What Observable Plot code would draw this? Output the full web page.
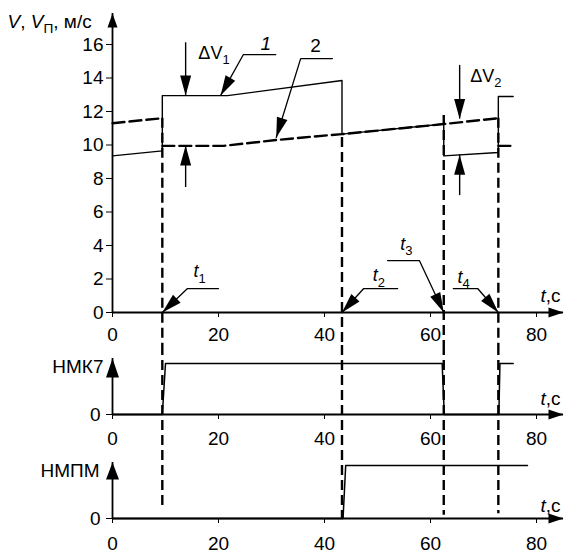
<!DOCTYPE html>
<html><head><meta charset="utf-8">
<script src="https://cdn.jsdelivr.net/npm/d3@7"></script>
<script src="https://cdn.jsdelivr.net/npm/@observablehq/plot@0.6"></script>
<style>
html,body{margin:0;padding:0;background:#fff;}
#chart{position:relative;width:565px;height:553px;overflow:hidden;background:#fff;}
#chart svg{position:absolute;left:0;}
</style></head><body><div id="chart"></div>
<script>
// ---------------- DATA ----------------
const tTicks = [0, 20, 40, 60, 80];
const vTicks = [0, 2, 4, 6, 8, 10, 12, 14, 16];

// curve 1: V (solid)
const vT = [0, 9.4, 9.4, 21.7, 43.3, 43.3, 62.5, 62.5, 72.8, 72.8, 75.6];
const vV = [9.35, 9.65, 12.95, 12.95, 13.85, 10.65, 11.25, 9.35, 9.55, 12.9, 12.9];

// curve 2: V_п (dashed), split in segments
const vpT   = [0, 9.4, 9.4, 21, 31, 36, 43.3, 62.5, 72.8, 72.8, 75.4];
const vpV   = [11.3, 11.6, 9.95, 9.95, 10.3, 10.45, 10.65, 11.25, 11.6, 9.95, 9.95];
const vpSeg = [0, 0, 1, 1, 1, 1, 1, 1, 1, 2, 2];

// НМК7 signal
const nmkT = [0, 9.4, 10.0, 62.2, 62.6, 72.9, 73.1, 75.6];
const nmkV = [0, 0, 1, 1, 0, 0, 1, 1];
// НМПМ signal
const nmpmT = [0, 43.5, 44.0, 78.3];
const nmpmV = [0, 0, 1, 1];

// event instants t1..t4
const eventT = [9.4, 43.3, 62.5, 72.8];
const eventTopV = [11.6, 10.45, 11.76, 11.6];     // where marker starts in V panel
const eventEndBottom = [0.21, 0, 0.06, 0.09];      // where marker ends in НМПМ panel

// leaders (callouts)
const leaderId = ["1", "2", "t1", "t2", "t3", "t4"];
const leaderEndT = [30.8, 41.5, 20.0, 53.8, 51.9, 64.3];
const leaderKneeT = [24.7, 35.5, 14.15, 47.4, 57.9, 68.9];
const leaderShelfV = [15.4, 15.16, 1.43, 1.43, 3.1, 1.43];
const leaderTipT = [20.4, 30.9, 9.4, 43.3, 62.5, 72.8];
const leaderTipV = [12.96, 10.45, 0, 0, 0, 0];

// ΔV arrows
const dvT = [13.8, 13.8, 65.5, 65.5];
const dvFromV = [16.1, 7.46, 14.75, 6.98];
const dvTipV = [12.96, 9.97, 11.55, 9.42];

// labels
const curveLabels = ["1", "2"];
const curveLabelT = [28.9, 38.3];
const curveLabelV = [16.06, 15.94];
const dvLabels = ["ΔV_1_", "ΔV_2_"];
const dvLabelT = [16.2, 67.5];
const dvLabelV = [15.5, 14.1];
const tLabels = ["*t*_1_", "*t*_2_", "*t*_3_", "*t*_4_"];
const tLabelT = [15.3, 49.1, 54.3, 65.1];
const tLabelV = [2.45, 2.2, 4.1, 2.1];
const yTitleTop = "*V*, *V*_П_, м/с";
const axisTitleT = "*t*,с";
const midTitle = "НМК7";
const botTitle = "НМПМ";

// ---------------- LAYOUT ----------------
const W = 565, ML = 112, MR = 29;
const P = {
  top: {top: 0, height: 345, mt: 44, mb: 33, domain: [0, 16]},
  mid: {top: 345, height: 105, mt: 18, mb: 36, domain: [0, 1]},
  bot: {top: 450, height: 103, mt: 15, mb: 35, domain: [0, 1]}
};
const xs = d3.scaleLinear([0, 80], [ML, W - MR]);
for (const k in P) P[k].ys = d3.scaleLinear(P[k].domain, [P[k].height - P[k].mb, P[k].mt]);
const xTip = xs.invert(563);

const font = "'Liberation Sans', Arial, Helvetica, sans-serif";
const baseStyle = {fontFamily: font, fontSize: "19px", background: "transparent", overflow: "visible", color: "black"};

function arrowHead(dx, dy, len, wid) {
  const n = Math.hypot(dx, dy), ux = dx / n, uy = dy / n;
  return {draw(ctx) {
    const bx = -len * ux, by = -len * uy;
    ctx.moveTo(0, 0);
    ctx.lineTo(bx - wid / 2 * uy, by + wid / 2 * ux);
    ctx.lineTo(bx + wid / 2 * uy, by - wid / 2 * ux);
    ctx.closePath();
  }};
}
function headDot(t, v, sym) {
  return Plot.dot([0], {x: () => t, y: () => v, symbol: sym, r: 5, fill: "black", stroke: "none"});
}
function axisMarks(p, yTipPx, yHead, xHead) {
  const yTip = p.ys.invert(yTipPx);
  return [
    Plot.ruleY([0], {x1: 0, x2: xTip, stroke: "black", strokeWidth: 1.8}),
    Plot.ruleX([0], {y1: 0, y2: yTip, stroke: "black", strokeWidth: 1.8}),
    headDot(0, yTip, arrowHead(0, -1, yHead[0], yHead[1])),
    headDot(xTip, 0, arrowHead(1, 0, xHead[0], xHead[1]))
  ];
}
// turn simple markup (*italic*, _subscript_) into tspans
function enrich(svg, fsByString) {
  d3.select(svg).selectAll("text").each(function() {
    const s = this.textContent;
    if (!(s in fsByString)) return;
    const fs = fsByString[s];
    const el = d3.select(this); el.text(null);
    const parts = s.split(/(\*[^*]+\*|_[^_]+_)/).filter(p => p);
    let shift = 0;
    for (const p of parts) {
      const ts = el.append("tspan");
      let txt = p, dy;
      if (p[0] === "_") {
        txt = p.slice(1, -1); ts.attr("font-size", fs * 0.72);
        dy = fs * 0.3 - shift; shift = fs * 0.3;
      } else {
        if (p[0] === "*") { txt = p.slice(1, -1); ts.attr("font-style", "italic"); }
        dy = -shift; shift = 0;
      }
      if (dy) ts.attr("dy", dy);
      ts.text(txt);
    }
  });
}
function richText(strings, T, V, fs, anchor) {
  return Plot.text(strings.map((_, i) => i), {
    x: i => T[i], y: i => V[i], text: i => strings[i],
    fontSize: fs, textAnchor: anchor, fill: "black"
  });
}
function makePlot(p, yTicks, tickPadX, tickPadY, marks) {
  return Plot.plot({
    width: W, height: p.height,
    marginLeft: ML, marginRight: MR, marginTop: p.mt, marginBottom: p.mb,
    x: {domain: [0, 80], ticks: tTicks, tickSize: 5, tickPadding: tickPadX, tickFormat: d => `${d}`, label: null},
    y: {domain: p.domain, ticks: yTicks, tickSize: 6, tickPadding: tickPadY, tickFormat: d => `${d}`, label: null},
    style: baseStyle,
    marks
  });
}
const idx = a => a.map((_, i) => i);
const dash = {stroke: "black", strokeWidth: 2.4, strokeDasharray: "10,5"};
const richSizes = {};
dvLabels.forEach(s => richSizes[s] = 18);
tLabels.forEach(s => richSizes[s] = 18);
richSizes[yTitleTop] = 19;
richSizes[axisTitleT] = 19;

// ---------------- TOP PANEL ----------------
const pt = P.top;
const leaderPts = [];
leaderId.forEach((id, i) => {
  leaderPts.push({id, t: leaderEndT[i], v: leaderShelfV[i]});
  leaderPts.push({id, t: leaderKneeT[i], v: leaderShelfV[i]});
  leaderPts.push({id, t: leaderTipT[i], v: leaderTipV[i]});
});
const leaderHeads = leaderId.map((id, i) => headDot(leaderTipT[i], leaderTipV[i],
  arrowHead(xs(leaderTipT[i]) - xs(leaderKneeT[i]), pt.ys(leaderTipV[i]) - pt.ys(leaderShelfV[i]), 20, 11)));
const dvHeads = dvT.map((t, i) => headDot(t, dvTipV[i],
  arrowHead(0, pt.ys(dvTipV[i]) - pt.ys(dvFromV[i]), 20, 11)));

const topPlot = makePlot(pt, vTicks, 10, 3, [
  Plot.ruleX(idx(eventT), {x: i => eventT[i], y1: i => eventTopV[i], y2: pt.ys.invert(pt.height), ...dash}),
  Plot.line(idx(vT), {x: i => vT[i], y: i => vV[i], stroke: "black", strokeWidth: 1.4}),
  Plot.line(idx(vpT), {x: i => vpT[i], y: i => vpV[i], z: i => vpSeg[i], ...dash, strokeDasharray: "12,5"}),
  ...axisMarks(pt, 13, [14, 10], [15, 10]),
  Plot.line(leaderPts, {x: "t", y: "v", z: "id", stroke: "black", strokeWidth: 1.3}),
  ...leaderHeads,
  Plot.ruleX(idx(dvT), {x: i => dvT[i], y1: i => dvFromV[i], y2: i => dvTipV[i], stroke: "black", strokeWidth: 1.4}),
  ...dvHeads,
  Plot.text([0], {x: () => curveLabelT[0], y: () => curveLabelV[0], text: () => curveLabels[0], fontSize: 19, fontStyle: "italic", fill: "black"}),
  Plot.text([0], {x: () => curveLabelT[1], y: () => curveLabelV[1], text: () => curveLabels[1], fontSize: 19, fill: "black"}),
  richText(dvLabels, dvLabelT, dvLabelV, 18, "start"),
  richText(tLabels, tLabelT, tLabelV, 18, "start"),
  richText([yTitleTop], [xs.invert(7)], [pt.ys.invert(21)], 19, "start"),
  richText([axisTitleT], [80.75], [pt.ys.invert(295)], 19, "start")
]);
enrich(topPlot, richSizes);

// ---------------- MIDDLE PANEL ----------------
const pm = P.mid;
const midPlot = makePlot(pm, [0], 12, 6, [
  Plot.ruleX(idx(eventT), {x: i => eventT[i], y1: pm.ys.invert(0), y2: pm.ys.invert(pm.height), ...dash}),
  ...axisMarks(pm, 13, [19, 13], [15, 10]),
  Plot.line(idx(nmkT), {x: i => nmkT[i], y: i => nmkV[i], stroke: "black", strokeWidth: 1.5}),
  Plot.text([midTitle], {x: () => xs.invert(103), y: () => pm.ys.invert(366 - pm.top), text: d => d, textAnchor: "end", fontSize: 19, fill: "black"}),
  richText([axisTitleT], [80.75], [pm.ys.invert(398 - pm.top)], 19, "start")
]);
enrich(midPlot, richSizes);

// ---------------- BOTTOM PANEL ----------------
const pb = P.bot;
const botPlot = makePlot(pb, [0], 13, 6, [
  Plot.ruleX(idx(eventT), {x: i => eventT[i], y1: pb.ys.invert(0), y2: i => eventEndBottom[i], ...dash}),
  ...axisMarks(pb, 12, [17, 13], [15, 10]),
  Plot.line(idx(nmpmT), {x: i => nmpmT[i], y: i => nmpmV[i], stroke: "black", strokeWidth: 1.5}),
  Plot.text([botTitle], {x: () => xs.invert(99), y: () => pb.ys.invert(470 - pb.top), text: d => d, textAnchor: "end", fontSize: 19, fill: "black"}),
  richText([axisTitleT], [80.75], [pb.ys.invert(505 - pb.top)], 19, "start")
]);
enrich(botPlot, richSizes);

const host = document.getElementById("chart");
[[topPlot, pt], [midPlot, pm], [botPlot, pb]].forEach(([svg, p]) => {
  svg.style.top = p.top + "px";
  svg.style.position = "absolute";
  host.append(svg);
});
</script></body></html>
